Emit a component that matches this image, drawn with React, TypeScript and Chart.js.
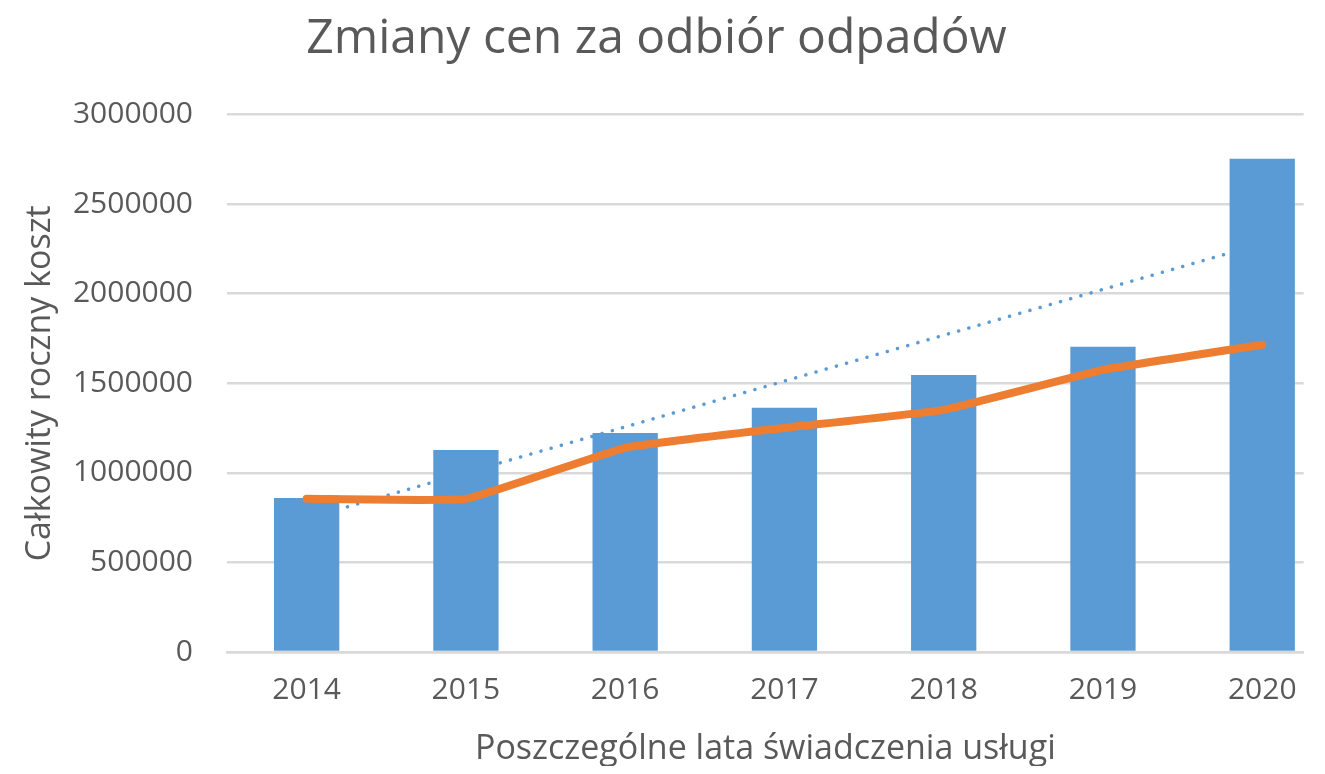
import React, { useEffect, useRef } from 'react';
import { Chart, registerables } from 'chart.js';

Chart.register(...registerables);

const years = ['2014', '2015', '2016', '2017', '2018', '2019', '2020'];
const barValues = [860000, 1128000, 1223000, 1363000, 1547000, 1704000, 2754000];
const lineValues = [855000, 855000, 1140000, 1251000, 1352000, 1575000, 1715000];
const trendYears = ['2014', '2020'];
const trendValues = [745000, 2280000];
const yMax = 3000000;
const yStep = 500000;

const TEXT = '#595959';
const FONT = "'Open Sans', sans-serif";

export default function App() {
  const ref = useRef<HTMLCanvasElement | null>(null);

  useEffect(() => {
    if (!ref.current) return;
    const pos = (y: string) => years.indexOf(y) + 1;
    const chart = new Chart(ref.current, {
      type: 'bar',
      data: {
        datasets: [
          {
            type: 'line',
            label: 'Średnia',
            data: lineValues.map((v, i) => ({ x: pos(years[i]), y: v })),
            borderColor: '#ED7D31',
            backgroundColor: '#ED7D31',
            borderWidth: 8,
            borderCapStyle: 'round',
            borderJoinStyle: 'round',
            tension: 0.1,
            pointRadius: 0,
            order: 1,
          } as any,
          {
            type: 'bar',
            label: 'Koszt',
            data: barValues.map((v, i) => ({ x: pos(years[i]), y: v })),
            backgroundColor: '#5B9BD5',
            categoryPercentage: 1,
            barPercentage: 0.41,
            order: 2,
          } as any,
          {
            type: 'line',
            label: 'Trend',
            data: trendValues.map((v, i) => ({ x: pos(trendYears[i]), y: v })),
            borderColor: '#5B9BD5',
            borderWidth: 3.5,
            borderCapStyle: 'round',
            borderDash: [0.1, 10.5],
            pointRadius: 0,
            tension: 0,
            order: 3,
          } as any,
        ],
      },
      options: {
        animation: false,
        responsive: true,
        maintainAspectRatio: false,
        layout: { padding: { left: 0, right: 12, top: 0, bottom: 0 } },
        plugins: {
          legend: { display: false },
          tooltip: { enabled: false },
          title: {
            display: true,
            text: 'Zmiany cen za odbiór odpadów',
            color: TEXT,
            font: { family: FONT, size: 48, weight: 'normal', lineHeight: 1.2 },
            padding: { top: 3, bottom: 46 },
          },
        },
        scales: {
          x: {
            type: 'linear',
            offset: false,
            min: 0.5,
            max: 7.26,
            grid: { display: false, drawTicks: false, offset: false },
            border: { display: true, color: '#D9D9D9', width: 2.5 },
            ticks: {
              stepSize: 1,
              includeBounds: false,
              autoSkip: false,
              maxRotation: 0,
              padding: 20,
              color: TEXT,
              font: { family: FONT, size: 30 },
              callback: (v: any) => (Number.isInteger(v) && years[v - 1] ? years[v - 1] : ''),
            },
            title: {
              display: true,
              text: 'Poszczególne lata świadczenia usługi',
              color: TEXT,
              font: { family: FONT, size: 34, lineHeight: 1 },
              padding: { top: 0, bottom: 0 },
            },
            afterFit: (s: any) => {
              s.height = 114;
            },
          } as any,
          y: {
            min: 0,
            max: yMax,
            grid: { color: '#D9D9D9', lineWidth: 2.5, drawTicks: false },
            border: { display: false },
            ticks: {
              stepSize: yStep,
              padding: 34,
              color: TEXT,
              font: { family: FONT, size: 30 },
              callback: (v: any) => String(v),
            },
            title: {
              display: true,
              text: 'Całkowity roczny koszt',
              color: TEXT,
              font: { family: FONT, size: 34, lineHeight: 1.2 },
              padding: { top: 12, bottom: 0 },
            },
            afterFit: (s: any) => {
              s.width = 219;
            },
          } as any,
        },
      },
    });
    return () => chart.destroy();
  }, []);

  return (
    <div style={{ width: 1309, height: 758, position: 'relative', background: '#fff' }}>
      <canvas ref={ref} />
    </div>
  );
}
